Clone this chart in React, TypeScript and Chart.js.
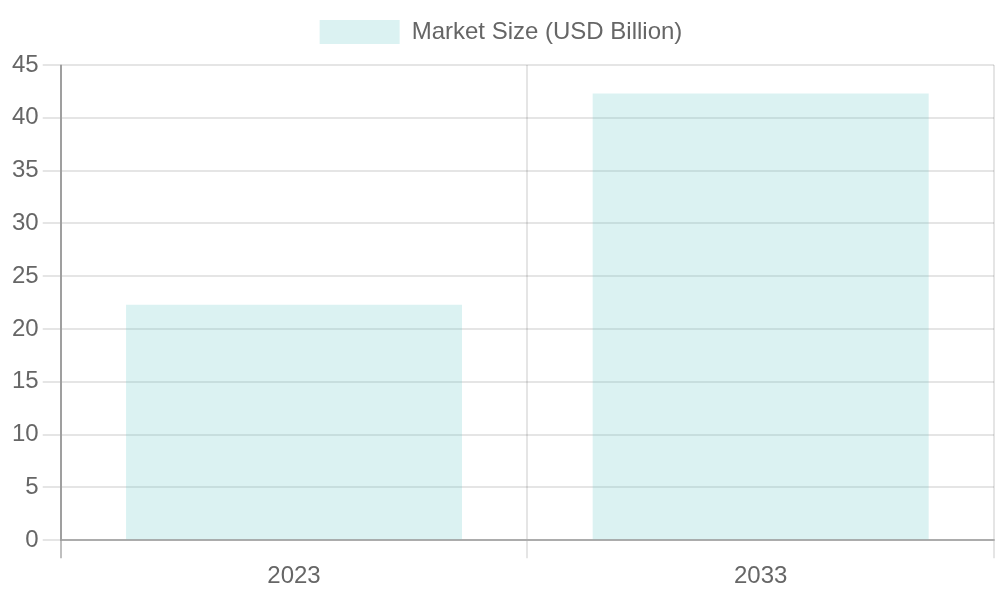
import { useEffect, useRef } from 'react';
import { Chart, registerables } from 'chart.js';

Chart.register(...registerables);

const years = ['2023', '2033'];
const marketSize = [22.3, 42.3];
const seriesLabel = 'Market Size (USD Billion)';

const light = 'rgba(0,0,0,0.1)';
const dark = 'rgba(0,0,0,0.25)';

// leaves a little more room under the legend
const legendGap = {
  id: 'legendGap',
  beforeInit(chart: any) {
    const fit = chart.legend.fit;
    chart.legend.fit = function () {
      fit.bind(chart.legend)();
      this.height += 11;
    };
  }
};

export default function App() {
  const canvasRef = useRef<HTMLCanvasElement | null>(null);

  useEffect(() => {
    if (!canvasRef.current) return;
    const ctx = canvasRef.current.getContext('2d');
    if (!ctx) return;
    const chart = new Chart(ctx, {
      type: 'bar',
      data: {
        labels: years,
        datasets: [
          {
            label: seriesLabel,
            data: marketSize,
            backgroundColor: 'rgba(75,192,192,0.2)',
            borderWidth: 0
          }
        ]
      },
      plugins: [legendGap],
      options: {
        animation: false,
        responsive: true,
        maintainAspectRatio: false,
        layout: { padding: { left: 8, right: 6, bottom: 5 } },
        plugins: {
          legend: {
            labels: {
              boxWidth: 80,
              boxHeight: 24,
              padding: 20,
              color: '#666',
              font: { size: 24 }
            }
          },
          tooltip: { enabled: false }
        },
        scales: {
          x: {
            grid: {
              lineWidth: 2,
              tickLength: 18,
              color: (c: any) => (c.index === 0 ? dark : light)
            },
            border: { width: 2, color: dark },
            ticks: { color: '#666', font: { size: 24 }, padding: 4 }
          },
          y: {
            min: 0,
            max: 45,
            grid: { lineWidth: 2, tickLength: 18, color: light },
            border: { width: 2, color: 'rgba(0,0,0,0.17)' },
            ticks: { stepSize: 5, color: '#666', font: { size: 24 }, padding: 4 }
          }
        }
      }
    });
    return () => chart.destroy();
  }, []);

  return (
    <div style={{ position: 'absolute', left: 0, top: 0, width: 1000, height: 600 }}>
      <canvas ref={canvasRef} />
    </div>
  );
}
